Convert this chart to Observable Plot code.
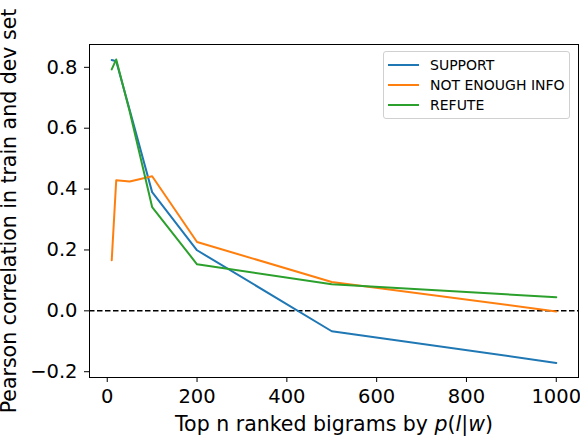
<!DOCTYPE html>
<html lang="en">
<head>
<meta charset="utf-8">
<title>Pearson correlation by top n bigrams</title>
<script src="https://cdn.jsdelivr.net/npm/d3@7"></script>
<script src="https://cdn.jsdelivr.net/npm/@observablehq/plot@0.6"></script>
<style>
  body { margin: 0; background: white; }
  #wrap { position: relative; width: 580px; height: 436px; }
  #legend {
    position: absolute; left: 383px; top: 51px; width: 187px; height: 68px;
    border: 1px solid #d0d0d0; border-radius: 3px; background: rgba(255,255,255,0.8);
    font-family: 'DejaVu Sans', sans-serif; font-size: 14px; color: #000;
    box-sizing: border-box; padding-top: 3px;
  }
  .row { display: flex; align-items: center; height: 20px; }
  .swatch { width: 31px; height: 2px; margin-left: 4px; margin-right: 11px; }
</style>
</head>
<body>
<div id="wrap">
  <div id="graphic"></div>
  <div id="legend"></div>
</div>
<script>
  // values
  const ns = [10, 20, 50, 100, 200, 500, 1000];
  const support = [0.824, 0.820, 0.660, 0.390, 0.199, -0.067, -0.171];
  const notEnoughInfo = [0.166, 0.429, 0.425, 0.442, 0.226, 0.095, -0.002];
  const refute = [0.793, 0.826, 0.655, 0.341, 0.153, 0.087, 0.045];

  const seriesNames = ["SUPPORT", "NOT ENOUGH INFO", "REFUTE"];
  const seriesColors = ["#1f77b4", "#ff7f0e", "#2ca02c"];
  const xTicks = [0, 200, 400, 600, 800, 1000];
  const yTicks = [-0.2, 0.0, 0.2, 0.4, 0.6, 0.8];

  const data = [];
  [support, notEnoughInfo, refute].forEach((vals, i) => {
    ns.forEach((n, j) => data.push({n: n, r: vals[j], series: seriesNames[i]}));
  });

  const chart = Plot.plot({
    width: 580, height: 436,
    marginLeft: 89, marginRight: 2, marginTop: 44, marginBottom: 59,
    style: {fontFamily: "'DejaVu Sans', sans-serif", fontSize: "19.5px", color: "#000", background: "white"},
    x: {domain: [-39.5, 1049.5]},
    y: {domain: [-0.219, 0.875]},
    color: {domain: seriesNames, range: seriesColors},
    marks: [
      Plot.ruleY([0], {stroke: "black", strokeWidth: 1.5, strokeDasharray: "5.5,2.5"}),
      Plot.line(data, {x: "n", y: "r", z: "series", stroke: "series", strokeWidth: 2}),
      Plot.frame({stroke: "black", strokeWidth: 1}),
      Plot.axisX({ticks: xTicks, tickSize: 5, tickPadding: 7, tickFormat: d3.format("d"),
        label: "Top n ranked bigrams by p(l|w)", labelAnchor: "center", labelArrow: "none", labelOffset: 53}),
      Plot.axisY({ticks: yTicks, tickSize: 5, tickPadding: 7, tickFormat: d3.format(".1f"),
        label: "Pearson correlation in train and dev set", labelAnchor: "center", labelArrow: "none", labelOffset: 88})
    ]
  });
  document.getElementById('graphic').appendChild(chart);

  // axis labels are a little larger than tick labels
  d3.select(chart).selectAll('g[aria-label="x-axis label"], g[aria-label="y-axis label"]')
    .attr("font-size", "20.5px");

  // italic p(l|w) in the x label
  const xl = d3.select(chart).select('g[aria-label="x-axis label"] text');
  if (!xl.empty()) {
    xl.text(null);
    xl.append("tspan").text("Top n ranked bigrams by ");
    xl.append("tspan").attr("font-style", "italic").text("p");
    xl.append("tspan").text("(");
    xl.append("tspan").attr("font-style", "italic").text("l");
    xl.append("tspan").text("|");
    xl.append("tspan").attr("font-style", "italic").text("w");
    xl.append("tspan").text(")");
  }

  const legend = d3.select("#legend");
  seriesNames.forEach((name, i) => {
    const row = legend.append("div").attr("class", "row");
    row.append("div").attr("class", "swatch").style("background", seriesColors[i]);
    row.append("span").text(name);
  });
</script>
</body>
</html>
